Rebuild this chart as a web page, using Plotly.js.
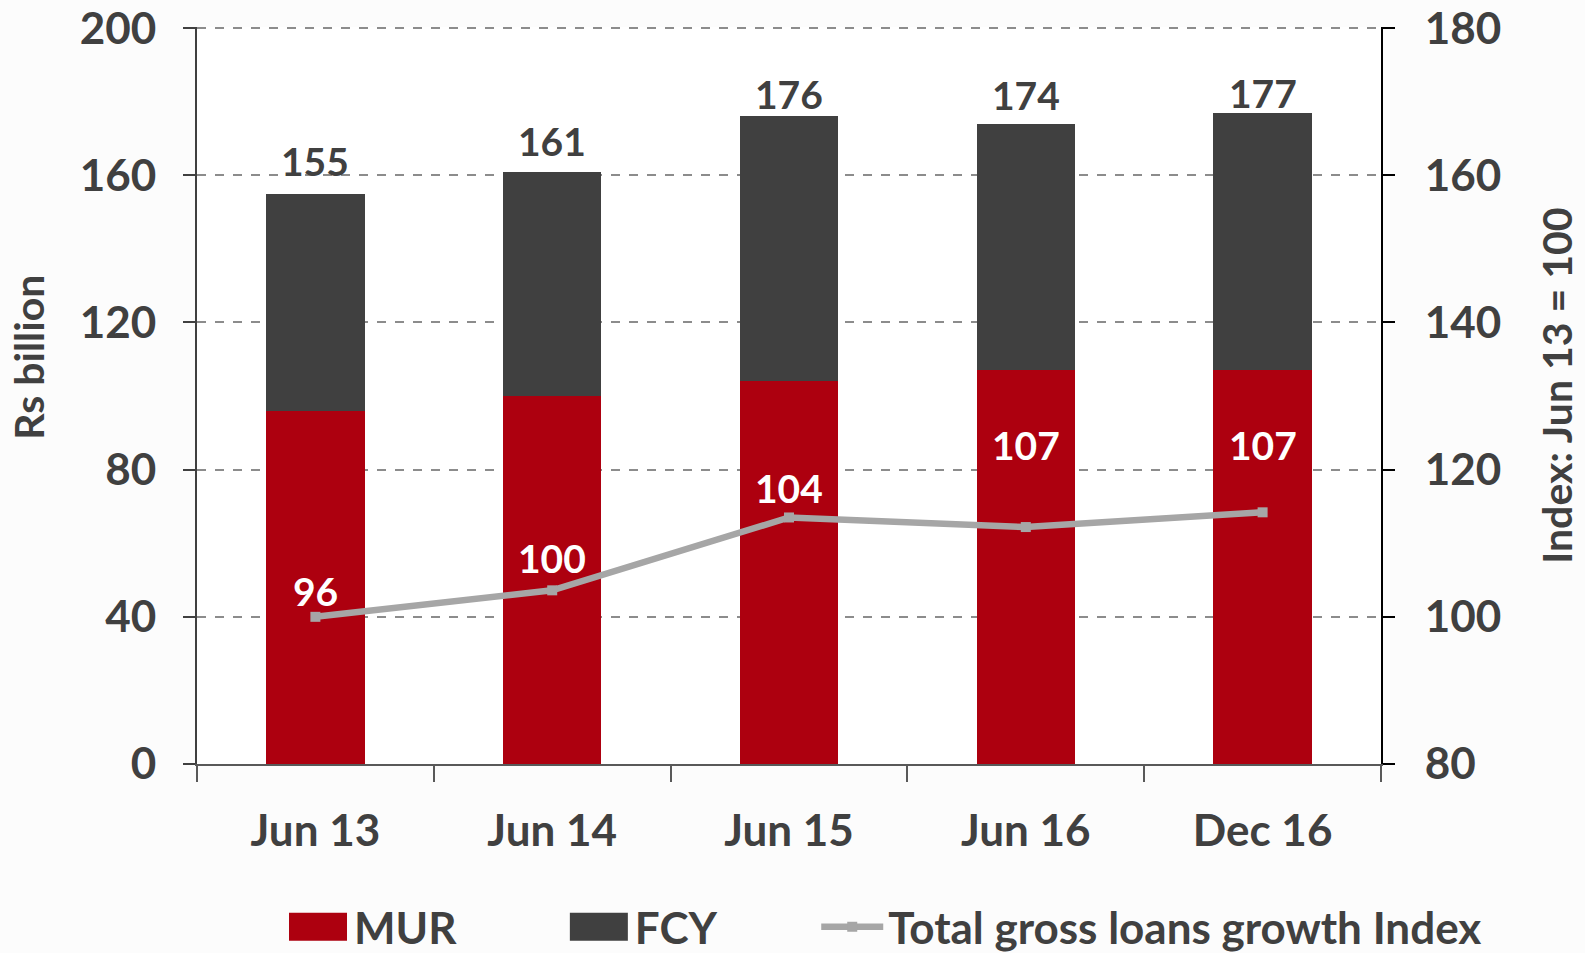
<!DOCTYPE html>
<html>
<head>
<meta charset="utf-8">
<script src="https://cdn.plot.ly/plotly-3.0.1.min.js"></script>
<style>html,body{margin:0;padding:0;background:#fff;}#chart{width:1585px;height:953px;}</style>
</head>
<body>
<div id="chart"></div>
<script>
const categories = ["Jun 13", "Jun 14", "Jun 15", "Jun 16", "Dec 16"];
const mur = [96, 100, 104, 107, 107];
const fcy = [59, 61, 72, 67, 70];
const totalLabels = [155, 161, 176, 174, 177];
const growthIndex = [100, 103.6, 113.5, 112.2, 114.2];

// label placement (style only)
const murLabelY = [47, 56, 75, 86.6, 86.6];
const totalLabelShift = [8, 6, -3, 4, -5];

const FONT = "Lato, 'Open Sans', sans-serif";
const TXT = "#404040";

const traces = [
  {type: "bar", name: "MUR", x: categories, y: mur, marker: {color: "#AD000F"}, legend: "legend"},
  {type: "bar", name: "FCY", x: categories, y: fcy, marker: {color: "#404040"}, legend: "legend2"},
  {type: "scatter", mode: "lines+markers", name: "Total gross loans growth Index", x: categories, y: growthIndex,
   yaxis: "y2", legend: "legend3", line: {color: "#A6A6A6", width: 6.5},
   marker: {symbol: "square", size: 10, color: "#A6A6A6"}}
];

const annotations = [];
categories.forEach((c, i) => {
  annotations.push({x: c, y: mur[i] + fcy[i], xref: "x", yref: "y", text: String(totalLabels[i]),
    showarrow: false, yanchor: "bottom", yshift: totalLabelShift[i],
    font: {family: FONT, size: 39, color: TXT, weight: 700}});
  annotations.push({x: c, y: murLabelY[i], xref: "x", yref: "y", text: String(mur[i]),
    showarrow: false, yanchor: "middle", font: {family: FONT, size: 39, color: "#ffffff", weight: 700}});
});
annotations.push({xref: "paper", yref: "paper", x: -0.1419, y: 0.5525, text: "Rs billion", textangle: -90,
  showarrow: false, xanchor: "center", yanchor: "middle", font: {family: FONT, size: 41, color: TXT, weight: 700}});
annotations.push({xref: "paper", yref: "paper", x: 1.1486, y: 0.513, text: "Index: Jun 13 = 100", textangle: -90,
  showarrow: false, xanchor: "center", yanchor: "middle", font: {family: FONT, size: 41, color: TXT, weight: 700}});

const legFont = {family: FONT, size: 44, color: TXT, weight: 700};
const legBase = {orientation: "h", xanchor: "left", yanchor: "middle", yref: "container", y: 0.027,
  itemwidth: 62, font: legFont, bgcolor: "rgba(0,0,0,0)"};

const layout = {
  width: 1585, height: 953,
  margin: {l: 197, r: 204, t: 27, b: 189},
  paper_bgcolor: "#fcfcfc",
  plot_bgcolor: "#ffffff",
  barmode: "stack",
  bargap: 0.585,
  font: {family: FONT, color: TXT, size: 44, weight: 700},
  showlegend: true,
  legend: Object.assign({}, legBase, {x: 0.0718}),
  legend2: Object.assign({}, legBase, {x: 0.309}),
  legend3: Object.assign({}, legBase, {x: 0.523}),
  xaxis: {type: "category", showgrid: false, showline: true, linecolor: "#595959", linewidth: 2,
    ticks: "outside", tickson: "boundaries", ticklen: 16, tickcolor: "#595959", tickwidth: 2,
    ticklabelstandoff: 27, tickfont: {family: FONT, size: 44, color: TXT, weight: 700}, zeroline: false},
  yaxis: {range: [0, 200.3], tickvals: [0, 40, 80, 120, 160, 200], showgrid: true, gridcolor: "#8C8C8C", griddash: "dash", gridwidth: 2,
    showline: true, linecolor: "#404040", linewidth: 2, ticks: "outside", ticklen: 12, tickcolor: "#404040", tickwidth: 2,
    ticklabelstandoff: 18, zeroline: false,
    tickfont: {family: FONT, size: 44, color: TXT, weight: 700}},
  yaxis2: {overlaying: "y", side: "right", range: [80, 180.15], tickvals: [80, 100, 120, 140, 160, 180], showgrid: false, zeroline: false,
    showline: true, linecolor: "#000000", linewidth: 2, ticks: "outside", ticklen: 12, tickcolor: "#000000", tickwidth: 2,
    ticklabelstandoff: 21, tickfont: {family: FONT, size: 44, color: TXT, weight: 700}},
  annotations: annotations
};

Plotly.newPlot("chart", traces, layout, {displayModeBar: false, staticPlot: true}).then(() => {
  // enlarge the bar legend swatches to match the reference
  document.querySelectorAll("#chart .legendpoints path").forEach(p => {
    const d = p.getAttribute("d") || "";
    if (/^M6,6H-6V-6H6Z$/.test(d.replace(/\s/g, ""))) {
      p.setAttribute("d", "M29,14H-29V-14H29Z");
    }
  });
});
</script>
</body>
</html>
